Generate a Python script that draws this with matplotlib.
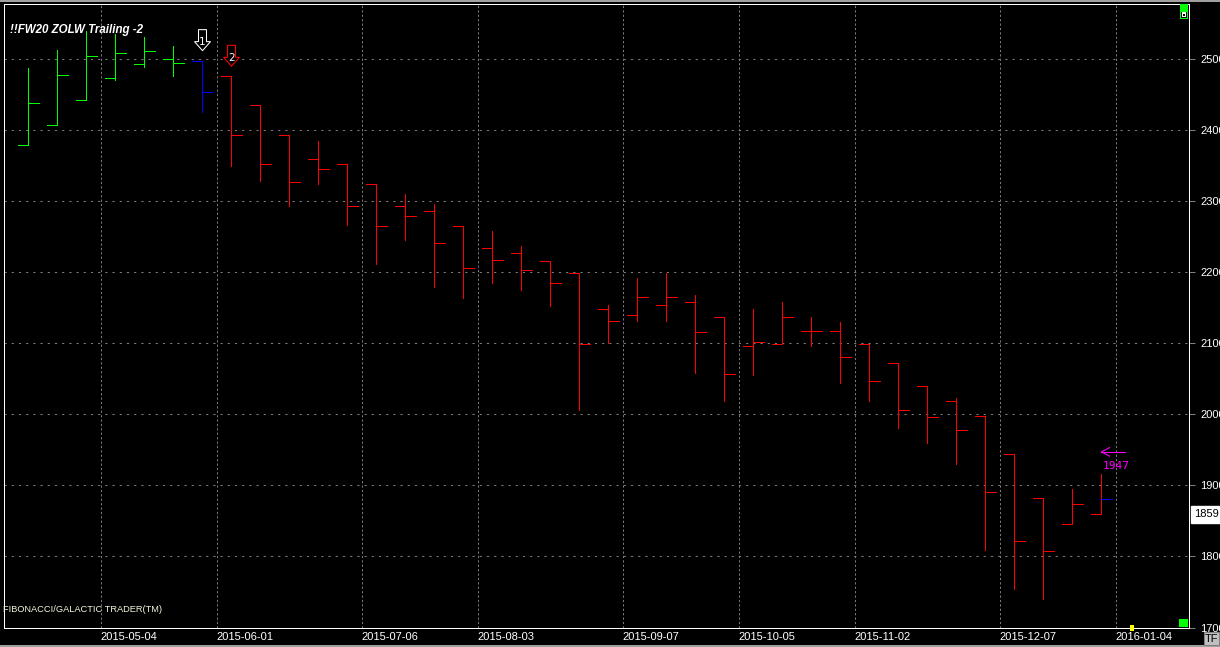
import numpy as np
import pandas as pd
import matplotlib
matplotlib.use("Agg")
import matplotlib.pyplot as plt
import matplotlib.dates as mdates
from matplotlib.patches import Polygon, Rectangle
from matplotlib.lines import Line2D
from matplotlib.transforms import ScaledTranslation, blended_transform_factory

# weekly bars, one per week starting Monday
weeks = pd.date_range("2015-04-13", periods=38, freq="W-MON")

opens = [2378, 2407, 2442, 2473, 2492, 2500, 2497, 2475, 2434, 2392,
         2359, 2351, 2323, 2293, 2286, 2264, 2234, 2226, 2215, 2199,
         2148, 2140, 2153, 2158, 2137, 2096, 2099, 2117, 2117, 2099,
         2072, 2039, 2018, 1998, 1944, 1882, 1846, 1859]
highs = [2486, 2512, 2538, 2535, 2530, 2518, 2497, 2475, 2434, 2392,
         2384, 2351, 2323, 2310, 2296, 2264, 2258, 2236, 2215, 2199,
         2154, 2192, 2199, 2168, 2137, 2148, 2158, 2137, 2129, 2099,
         2072, 2039, 2023, 1998, 1944, 1882, 1895, 1916]
lows = [2378, 2407, 2442, 2470, 2488, 2476, 2425, 2349, 2328, 2293,
        2324, 2266, 2211, 2245, 2179, 2163, 2184, 2175, 2152, 2006,
        2100, 2131, 2131, 2058, 2018, 2055, 2099, 2096, 2044, 2018,
        1980, 1959, 1930, 1809, 1754, 1740, 1846, 1859]
closes = [2437, 2477, 2504, 2508, 2510, 2494, 2453, 2392, 2351, 2326,
          2344, 2293, 2264, 2279, 2241, 2205, 2216, 2203, 2185, 2098,
          2131, 2165, 2165, 2116, 2056, 2102, 2137, 2117, 2081, 2046,
          2006, 1996, 1978, 1891, 1822, 1808, 1873, 1881]

bar_colors = ["#00ff00"] * 6 + ["#0000ff"] + ["#ff0000"] * 31
close_colors = bar_colors[:-1] + ["#0000ff"]

tick_dates = ["2015-05-04", "2015-06-01", "2015-07-06", "2015-08-03", "2015-09-07",
              "2015-10-05", "2015-11-02", "2015-12-07", "2016-01-04"]
y_ticks = [1700, 1800, 1900, 2000, 2100, 2200, 2300, 2400, 2500]

signal_bars = [6, 7]
signal_labels = ["1", "2"]
signal_colors = ["white", "#ff0000"]
last_price = 1859
target_price = 1947
title = "!!FW20 ZOLW Trailing -2"
footer = "FIBONACCI/GALACTIC TRADER(TM)"

W, H = 1220, 647
plt.rcParams["font.family"] = ["Liberation Sans", "DejaVu Sans"]
fig = plt.figure(figsize=(W / 100, H / 100), dpi=100, facecolor="black")
# frame edges sit on pixel centres: x 3.5..1188.5, y (from top) 3.5..627.5
ax = fig.add_axes([3.5 / W, 19.5 / H, 1185 / W, 624 / H], facecolor="black")

x = mdates.date2num(weeks) + 3.62
tick = 2.45
kw = dict(linewidth=0.72, antialiased=False)
ax.vlines(x, lows, highs, colors=bar_colors, **kw)
ax.hlines(opens, x - tick, x, colors=bar_colors, **kw)
ax.hlines(closes, x, x + tick, colors=close_colors, **kw)

tnum = mdates.date2num(pd.to_datetime(tick_dates))
ax.set_xlim(tnum[0] - 23.414, tnum[-1] + 17.62)
ax.set_ylim(1700, 2577.33)

ax.set_axisbelow(True)
ax.xaxis.grid(True, color="#7a7a7a", linestyle=(0, (2.2, 2.2)), linewidth=0.72)
ax.yaxis.grid(True, color="#7a7a7a", linestyle=(0, (2.2, 5)), linewidth=0.72)
ax.set_xticks(tnum)
ax.set_xticklabels(tick_dates)
for lbl in ax.get_xticklabels():
    lbl.set_ha("left")
ax.set_yticks(y_ticks)
ax.yaxis.tick_right()
ax.tick_params(axis="x", length=0, pad=3, labelsize=8, labelcolor="white")
ax.tick_params(axis="y", length=4.3, width=0.72, color="#808080", pad=4.3,
               labelsize=8, labelcolor="white")
for s in ax.spines.values():
    s.set_color("white")
    s.set_linewidth(0.72)

# signal arrows above bars
arrow = np.array([(0, 0), (-8, 9), (-4, 9), (-4, 21), (4, 21), (4, 9), (8, 9)], float)
arrow[:, 1] += 10
for j, lab, col in zip(signal_bars, signal_labels, signal_colors):
    tr = fig.dpi_scale_trans + ScaledTranslation(x[j], highs[j], ax.transData)
    ax.add_patch(Polygon(arrow / 100, closed=True, fc="black", ec=col, lw=0.75,
                         transform=tr, clip_on=False))
    ax.text(0, 0.185, lab, transform=tr, ha="center", va="center", color="white",
            fontsize=7.5, family="DejaVu Sans")

# target marker
tr = fig.dpi_scale_trans + ScaledTranslation(x[-1], target_price, ax.transData)
ax.add_line(Line2D([0, 0.24], [0, 0], color="#ff00ff", lw=0.75, transform=tr))
ax.add_line(Line2D([0.08, 0, 0.08], [0.043, 0, -0.043], color="#ff00ff", lw=0.75,
                   transform=tr))
ax.text(0.01, -0.14, str(target_price), transform=tr, ha="left", va="center",
        color="#ff00ff", fontsize=8, family="DejaVu Sans Mono")

# last price box on the axis
bt = blended_transform_factory(fig.transFigure, ax.transData)
ax.text(1194 / W, last_price, str(last_price), transform=bt, ha="left", va="center",
        color="black", fontsize=8, clip_on=False,
        bbox=dict(boxstyle="square,pad=0.3", fc="white", ec="white"))

fig.text(10 / W, 1 - 30 / H, title, color="white", fontsize=8.3,
         fontweight="bold", fontstyle="italic", va="center")
fig.text(3 / W, 1 - 610 / H, footer, color="#f5f5dc", fontsize=6.7, va="center")


def fig_rect(x0, y0, x1, y1, **k):
    fig.patches.append(Rectangle((x0 / W, 1 - y1 / H), (x1 - x0) / W, (y1 - y0) / H,
                                 transform=fig.transFigure, **k))


fig_rect(0, 0, W, 2, fc="#a0a0a0", ec="none")
fig_rect(0, 645, W, H, fc="#a0a0a0", ec="none")
fig_rect(1179.5, 3.5, 1188, 18.5, fc="#00ff00", ec="none")
fig_rect(1180.5, 11.5, 1186.5, 18, fc="black", ec="none")
fig_rect(1181.5, 12.5, 1185.5, 17, fc="white", ec="none")
fig_rect(1182.5, 13.5, 1184.5, 16, fc="black", ec="none")
fig_rect(1179, 619, 1187.7, 627, fc="#00ff00", ec="none")
fig_rect(1129.7, 625, 1134, 630.7, fc="#ffff00", ec="none")
fig_rect(1204, 631.7, 1219, 645, fc="#c0c0c0", ec="#808080", lw=0.75)
fig.text(1211.5 / W, 1 - 638.5 / H, "TF", color="black", fontsize=8,
         ha="center", va="center")

fig.savefig("out.png", dpi=100, facecolor="black")
